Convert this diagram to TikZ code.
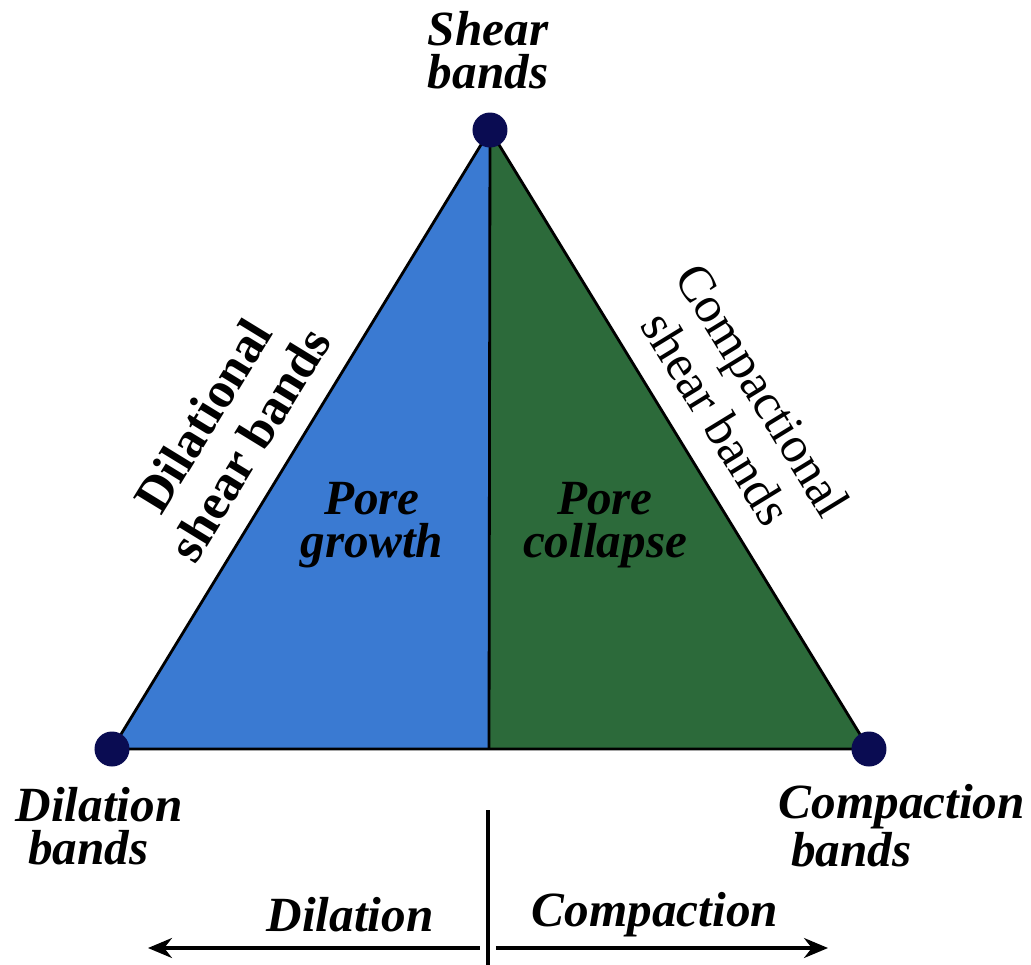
\documentclass[tikz,border=0pt]{standalone}
\usepackage{fontspec}
\setmainfont{Liberation Serif}
\usetikzlibrary{arrows.meta}
\definecolor{poreblue}{RGB}{58,122,210}
\definecolor{poregreen}{RGB}{44,106,58}
\definecolor{dotnavy}{RGB}{10,12,82}

\begin{document}
\begin{tikzpicture}[
    x=0.1mm, y=0.1mm,
    lbl/.style={font=\fontsize{14}{12.2}\selectfont\bfseries\itshape, align=center, inner sep=0pt},
    sidelbl/.style={font=\fontsize{14.5}{15.5}\selectfont, align=center, inner sep=0pt},
    edge/.style={line width=0.8pt, draw=black},
    corner/.style={circle, fill=dotnavy, minimum size=3.5mm, inner sep=0pt},
    flow/.style={-{Stealth[length=2.4mm, width=2mm]}, line width=0.9pt}
]
    \useasboundingbox (0,0) rectangle (1031,-965);

    \coordinate (top) at (490,-130);
    \coordinate (left) at (112,-749);
    \coordinate (right) at (869,-749);
    \coordinate (mid) at (489,-749);

    % Two halves of the triangle
    \fill[poreblue] (left) -- (top) -- (mid) -- cycle;
    \fill[poregreen] (mid) -- (top) -- (right) -- cycle;
    \draw[edge] (left) -- (top) -- (right) -- cycle;
    \draw[edge] (top) -- (mid);

    % End members
    \node[corner] (shear) at (top) {};
    \node[corner] (dilation) at (left) {};
    \node[corner] (compaction) at (right) {};

    \node[lbl] (shear_lbl) at (488,-50) {Shear\\bands};
    \node[lbl, align=left, anchor=west] (dilation_lbl) at (15,-826) {Dilation\\\hspace{0.25em}bands};
    \node[lbl, align=left, anchor=west] (compaction_lbl) at (778,-826) {Compaction\\\hspace{0.25em}bands};

    % Edge labels
    \node[sidelbl, font=\fontsize{14.5}{15.5}\selectfont\bfseries, rotate=58.5] (dilshear_lbl) at (226,-430) {Dilational\\shear bands};
    \node[sidelbl, rotate=-58.5] (compshear_lbl) at (740,-404) {Compactional\\shear bands};

    % Fields
    \node[lbl] (growth_lbl) at (372,-525) {Pore\\growth};
    \node[lbl] (collapse_lbl) at (605,-525) {Pore\\collapse};

    % Volume change axis
    \coordinate (axis_top) at (488,-810);
    \coordinate (axis_bot) at (488,-965);
    \draw[line width=0.9pt] (axis_top) -- (axis_bot);

    \coordinate (dil_start) at (480,-948);
    \coordinate (dil_end) at (148,-948);
    \coordinate (comp_start) at (496,-948);
    \coordinate (comp_end) at (828,-948);
    \draw[flow] (dil_start) -- (dil_end);
    \draw[flow] (comp_start) -- (comp_end);

    \node[lbl] (dil_axis_lbl) at (350,-915) {Dilation};
    \node[lbl] (comp_axis_lbl) at (655,-915) {Compaction};
\end{tikzpicture}
\end{document}
